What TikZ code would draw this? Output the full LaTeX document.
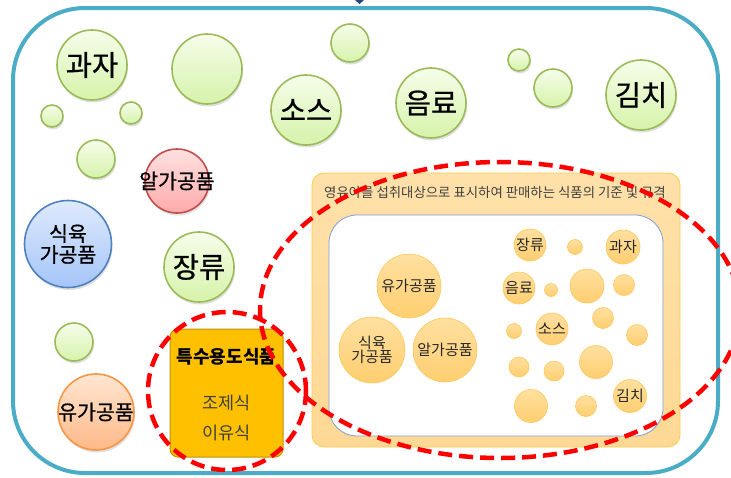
\documentclass[tikz,border=0pt]{standalone}
\usepackage{fontspec}
\setmainfont{Noto Sans CJK KR}
\newfontfamily\krh[FakeBold=0.8]{Noto Sans CJK KR}
\usetikzlibrary{shadows}
\definecolor{frameC}{RGB}{75,172,198}
\definecolor{grnB}{RGB}{155,187,89}
\definecolor{grnT}{RGB}{246,253,234}
\definecolor{grnM}{RGB}{214,243,170}
\definecolor{redB}{RGB}{192,80,77}
\definecolor{redT}{RGB}{255,225,225}
\definecolor{redM}{RGB}{255,170,170}
\definecolor{bluB}{RGB}{79,129,189}
\definecolor{bluT}{RGB}{222,234,253}
\definecolor{bluM}{RGB}{165,197,248}
\definecolor{orgB}{RGB}{247,150,70}
\definecolor{orgT}{RGB}{255,230,210}
\definecolor{orgM}{RGB}{255,185,135}
\definecolor{boxF}{RGB}{255,192,0}
\definecolor{boxB}{RGB}{191,144,0}
\definecolor{panF}{RGB}{255,217,148}
\definecolor{panB}{RGB}{255,200,80}
\definecolor{innB}{RGB}{127,159,208}
\definecolor{ocT}{RGB}{255,224,160}
\definecolor{ocM}{RGB}{255,206,112}
\definecolor{ocB}{RGB}{255,200,90}
\definecolor{txtG}{RGB}{64,64,64}
\definecolor{arrC}{RGB}{31,73,125}
\begin{document}
\begin{tikzpicture}[x=1pt,y=-1pt,
  shad/.style={drop shadow={opacity=0.25, shadow xshift=1pt, shadow yshift=-2.5pt}},
  gc/.style={circle, draw=grnB, line width=1.6pt, top color=grnT, bottom color=grnM, inner sep=0pt, shad},
  bigtxt/.style={font=\krh\fontsize{28.5}{30}\selectfont},
  midtxt/.style={font=\krh\fontsize{20.5}{23}\selectfont},
  oc/.style={circle, draw=ocB, line width=0.6pt, top color=ocT, bottom color=ocM, inner sep=0pt, text=black!85},
  octxt/.style={font=\fontsize{15}{17}\selectfont},
  reddash/.style={draw=red, line width=4.5pt, dash pattern=on 14pt off 7pt}
]
\useasboundingbox (0,0) rectangle (731,477);
\clip (0,0) rectangle (731,477);
% top arrow tip
\fill[arrC] (355,0) -- (364,0) -- (359.5,4) -- cycle;
% outer frame
\draw[frameC, line width=4pt, rounded corners=72pt] (13,8) rectangle (718,473);

% green circles
\node[gc, minimum size=70pt, bigtxt] (gwaja) at (92,65) {과자};
\node[gc, minimum size=70pt] (g1) at (207,69) {};
\node[gc, minimum size=38pt] (g2) at (350,43) {};
\node[gc, minimum size=70pt, bigtxt] (sos) at (306,110) {소스};
\node[gc, minimum size=22pt] (g3) at (52,116) {};
\node[gc, minimum size=22pt] (g4) at (131,113) {};
\node[gc, minimum size=38pt] (g5) at (96,159) {};
\node[gc, minimum size=70pt, bigtxt] (eumryo) at (431,103) {음료};
\node[gc, minimum size=22pt] (g6) at (519,60) {};
\node[gc, minimum size=38pt] (g7) at (553,88) {};
\node[gc, minimum size=70pt, bigtxt] (kimchi) at (641,95) {김치};
\node[gc, minimum size=70pt, bigtxt] (jang) at (199,267) {장류};
\node[gc, minimum size=38pt] (g8) at (74,342) {};

\node[circle, draw=redB, line width=1.6pt, top color=redT, bottom color=redM, inner sep=0pt, shad,
  minimum size=64pt] (egg) at (177,181) {};
\node[midtxt] (eggt) at (177,181) {알가공품};
\node[circle, draw=bluB, line width=1.6pt, top color=bluT, bottom color=bluM, inner sep=0pt, shad,
  minimum size=87pt, midtxt, align=center] (meat) at (68,244) {식육\\[-2pt]가공품};
\node[circle, draw=orgB, line width=1.6pt, top color=orgT, bottom color=orgM, inner sep=0pt, shad,
  minimum size=76pt] (milk) at (96,412) {};
\node[midtxt] (milkt) at (96,412) {유가공품};

% special-purpose food box
\node[draw=boxB, line width=1pt, fill=boxF, rounded corners=8pt, minimum width=113pt, minimum height=128pt, inner sep=0pt] (spec) at (226.5,393) {};
\node[font=\fontsize{18}{20}\selectfont\bfseries] (spect) at (226.5,357) {특수용도식품};
\node[font=\fontsize{17.5}{20}\selectfont, text=txtG] (jojesik) at (226.5,403) {조제식};
\node[font=\fontsize{17.5}{20}\selectfont, text=txtG] (iyusik) at (226.5,433) {이유식};

% infant food panel
\node[draw=panB, line width=0.8pt, top color=panF!80!white, bottom color=panF, rounded corners=12pt, minimum width=368pt, minimum height=274pt, inner sep=0pt] (panel) at (496,310) {};
\node[font=\fontsize{13.4}{15}\selectfont, text=txtG] (ptitle) at (495,192) {영유아를 섭취대상으로 표시하여 판매하는 식품의 기준 및 규격};
\node[draw=innB, line width=0.8pt, fill=white, rounded corners=28pt, minimum width=334pt, minimum height=221pt, inner sep=0pt] (inner) at (496,325.5) {};

% inner circles
\node[oc, minimum size=64pt, octxt] (i1) at (409,286) {유가공품};
\node[oc, minimum size=66pt, octxt, align=center] (i2) at (372,350) {식육\\[-3pt]가공품};
\node[oc, minimum size=64pt, octxt] (i3) at (445,350) {알가공품};
\node[oc, minimum size=32pt, octxt] (i4) at (530,245) {장류};
\node[oc, minimum size=15pt] (i5) at (575,247) {};
\node[oc, minimum size=34pt, octxt] (i6) at (623,247) {과자};
\node[oc, minimum size=32pt, octxt] (i7) at (519,288) {음료};
\node[oc, minimum size=13pt] (i8) at (551,290) {};
\node[oc, minimum size=34pt] (i9) at (587,286) {};
\node[oc, minimum size=21pt] (i10) at (624,285) {};
\node[oc, minimum size=21pt] (i11) at (603,318) {};
\node[oc, minimum size=15pt] (i12) at (514,331) {};
\node[oc, minimum size=32pt, octxt] (i13) at (552,329) {소스};
\node[oc, minimum size=21pt] (i14) at (637,335) {};
\node[oc, minimum size=20pt] (i15) at (519,367) {};
\node[oc, minimum size=20pt] (i16) at (554,371) {};
\node[oc, minimum size=33pt] (i17) at (596,362) {};
\node[oc, minimum size=33pt] (i18) at (531,406) {};
\node[oc, minimum size=21pt] (i19) at (586,406) {};
\node[oc, minimum size=33pt, octxt] (i20) at (630,396) {김치};

% red dashed highlights
\draw[reddash] (227,391) circle (79);
\draw[reddash] (500,310) ellipse (240 and 148);
\end{tikzpicture}
\end{document}
